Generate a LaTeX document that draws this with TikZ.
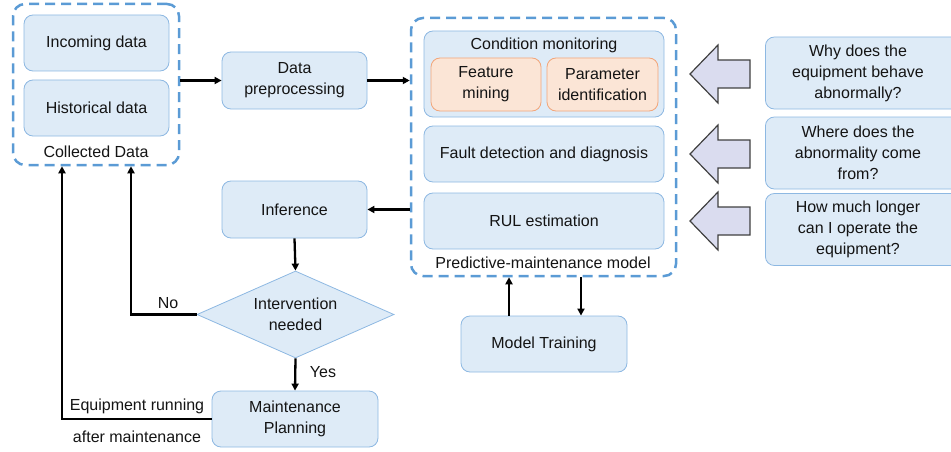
\documentclass[tikz,border=0pt]{standalone}
\usepackage{fontspec}
\setmainfont{Liberation Sans}
\usepackage{tikz}
\usetikzlibrary{arrows.meta,shapes.geometric,positioning}
\definecolor{boxfill}{HTML}{DEEBF7}
\definecolor{boxline}{HTML}{8DB8E2}
\definecolor{dashblue}{HTML}{5B9BD5}
\definecolor{orfill}{HTML}{FBE5D6}
\definecolor{orline}{HTML}{F2A579}
\definecolor{lavender}{HTML}{DADCEF}
\tikzset{
  blk/.style={draw=boxline, fill=boxfill, line width=0.8pt, rounded corners=9pt, align=center, inner sep=0pt},
  sub/.style={blk, draw=orline, fill=orfill},
  group/.style={draw=dashblue, line width=2.5pt, dash pattern=on 10pt off 6pt, rounded corners=12pt, inner sep=0pt},
  flow/.style={line width=2.3pt, ->},
  bigarrow/.style={draw=black!75, fill=lavender, line width=1.2pt, line join=miter},
}

\begin{document}
\begin{tikzpicture}[x=1pt, y=-1pt, >={Triangle[length=7pt,width=7pt]}, font=\fontsize{16}{21}\selectfont, text=black!92]
\newcommand{\bw}{145pt}
\newcommand{\bh}{56pt}
\clip (0,0) rectangle (951,452);
% collected data
\node[group, minimum width=166pt, minimum height=161pt] (col) at (96,84.5) {};
\node[blk, minimum width=\bw, minimum height=\bh] (inc) at (96.5,43) {Incoming data};
\node[blk, minimum width=\bw, minimum height=\bh] (hist) at (96.5,108) {Historical data};
\node (coltxt) at (96,152) {Collected Data};
\node[blk, minimum width=\bw, minimum height=57pt] (prep) at (294.5,80.5) {Data\\preprocessing};
% predictive-maintenance model
\node[group, minimum width=265pt, minimum height=258pt] (pdm) at (543.5,147) {};
\node[blk, minimum width=240pt, minimum height=86pt] (cm) at (544,74) {};
\node (cmtxt) at (544,45) {Condition monitoring};
\node[sub, minimum width=110pt, minimum height=53pt] (feat) at (486,84.5) {Feature\\mining};
\node[sub, minimum width=111pt, minimum height=53pt] (param) at (602.5,84.5) {Parameter\\identification};
\node[blk, minimum width=240pt, minimum height=\bh] (fault) at (544,154) {Fault detection and diagnosis};
\node[blk, minimum width=240pt, minimum height=\bh] (rul) at (544,221) {RUL estimation};
\node (pdmtxt) at (543,263) {Predictive-maintenance model};
\node[blk, minimum width=166pt, minimum height=\bh] (mt) at (544,344) {Model Training};
% decision loop
\node[blk, minimum width=\bw, minimum height=57pt] (inf) at (294.5,209.5) {Inference};
\node[diamond, draw=boxline, fill=boxfill, line width=0.8pt, align=center, inner sep=0pt,
      shape aspect=2.26, minimum width=197pt, minimum height=87pt] (dec) at (295.5,314.5) {Intervention\\needed};
\node[blk, minimum width=166pt, minimum height=\bh] (mp) at (295,419) {Maintenance\\Planning};
\node (no) at (168,303) {No};
\node (yes) at (323,372) {Yes};
\node (run1) at (137,406) {Equipment running};
\node (run2) at (137,437) {after maintenance};
\coordinate (nofb) at (131,0);
\coordinate (runfb) at (62,0);
% questions
\foreach \n/\y/\t in {q1/73/{Why does the\\equipment behave\\abnormally?},
                      q2/153/{Where does the\\abnormality come\\from?},
                      q3/229.5/{How much longer\\can I operate the\\equipment?}}{
  \node[blk, anchor=west, minimum width=215pt, minimum height=72pt] (\n) at (765,\y) {};
  \node[align=center] (\n txt) at (858,\y) {\t};
}
\foreach \y in {74,154,221}
  \draw[bigarrow] (690,\y) -- (718,\y-29) -- (718,\y-14) -- (750,\y-14)
    -- (750,\y+14) -- (718,\y+14) -- (718,\y+29) -- cycle;
% connectors
\draw[flow] (col.east |- prep.west) -- (prep.west);
\draw[flow] (prep.east) -- (prep.east -| pdm.west);
\draw[flow] (inf.east -| pdm.west) -- (inf.east);
\draw[flow] (inf.south) -- (dec.north);
\draw[flow] (dec.south) -- (mp.north);
\draw[flow] (dec.west) -| (nofb |- col.south);
\draw[flow] (mp.west) -| (runfb |- col.south);
\draw[flow] ([xshift=-35pt]mt.north) -- ([xshift=-35pt]mt.north |- pdm.south);
\draw[flow] ([xshift=37pt]mt.north |- pdm.south) -- ([xshift=37pt]mt.north);
\end{tikzpicture}
\end{document}
